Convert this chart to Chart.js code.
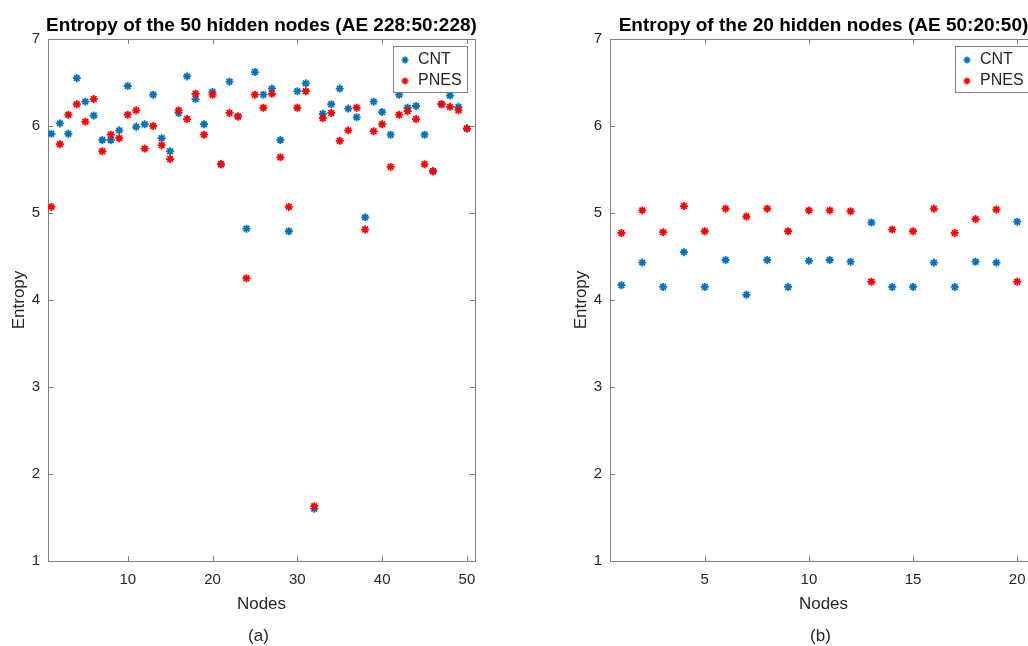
<!DOCTYPE html>
<html>
<head>
<meta charset="utf-8">
<script src="https://cdn.jsdelivr.net/npm/chart.js@4.4.1/dist/chart.umd.min.js"></script>
<style>
  html, body { margin: 0; padding: 0; background: #fff; overflow: hidden; }
  #wrapA { position: absolute; left: 0; top: 0; width: 514px; height: 646px; }
  #wrapB { position: absolute; left: 514px; top: 0; width: 540px; height: 646px; }
</style>
</head>
<body>
<div id="wrapA"><canvas id="chartA"></canvas></div>
<div id="wrapB"><canvas id="chartB"></canvas></div>
<script>
// (a) AE 228:50:228 - entropy per hidden node
const cntA = [5.91, 6.03, 5.91, 6.55, 6.28, 6.12, 5.84, 5.84, 5.95, 6.46,
              5.99, 6.02, 6.36, 5.86, 5.71, 6.15, 6.57, 6.31, 6.02, 6.39,
              5.56, 6.51, 6.11, 4.82, 6.62, 6.36, 6.43, 5.84, 4.79, 6.40,
              6.49, 1.60, 6.14, 6.25, 6.43, 6.20, 6.10, 4.95, 6.28, 6.16,
              5.90, 6.36, 6.21, 6.23, 5.90, 5.48, 6.25, 6.35, 6.22, 5.97];
const pnesA = [5.07, 5.79, 6.13, 6.25, 6.05, 6.31, 5.71, 5.90, 5.86, 6.13,
               6.18, 5.74, 6.00, 5.78, 5.62, 6.18, 6.08, 6.37, 5.90, 6.36,
               5.56, 6.15, 6.11, 4.25, 6.36, 6.21, 6.37, 5.64, 5.07, 6.21,
               6.40, 1.63, 6.09, 6.15, 5.83, 5.95, 6.21, 4.81, 5.94, 6.02,
               5.53, 6.13, 6.17, 6.08, 5.56, 5.48, 6.25, 6.22, 6.18, 5.97];

// (b) AE 50:20:50
const cntB = [4.17, 4.43, 4.15, 4.55, 4.15, 4.46, 4.06, 4.46, 4.15, 4.45,
              4.46, 4.44, 4.89, 4.15, 4.15, 4.43, 4.15, 4.44, 4.43, 4.90];
const pnesB = [4.77, 5.03, 4.78, 5.08, 4.79, 5.05, 4.96, 5.05, 4.79, 5.03,
               5.03, 5.02, 4.21, 4.81, 4.79, 5.05, 4.77, 4.93, 5.04, 4.21];

const xTicksA = [10, 20, 30, 40, 50];
const xTicksB = [5, 10, 15, 20];
const yTicks = [1, 2, 3, 4, 5, 6, 7];
const seriesNames = ['CNT', 'PNES'];

const FONT = '"Liberation Sans", Arial, Helvetica, sans-serif';
const BLUE = '#0072BD';
const RED = '#FF0000';
const AXIS = '#808080';
const TXT = '#262626';

// eixo estilo MATLAB: caixa + ticks para dentro, textos e legenda
const matlabAxes = {
  id: 'matlabAxes',
  beforeDatasetsDraw(chart) {
    const { ctx, chartArea: a, scales } = chart;
    ctx.save();
    ctx.strokeStyle = AXIS;
    ctx.lineWidth = 1;
    ctx.strokeRect(a.left + 0.5, a.top + 0.5, a.right - a.left, a.bottom - a.top);
    ctx.beginPath();
    scales.x.ticks.forEach(t => {
      const px = Math.round(scales.x.getPixelForValue(t.value)) + 0.5;
      ctx.moveTo(px, a.bottom); ctx.lineTo(px, a.bottom - 5);
      ctx.moveTo(px, a.top); ctx.lineTo(px, a.top + 5);
    });
    scales.y.ticks.forEach(t => {
      const py = Math.round(scales.y.getPixelForValue(t.value)) + 0.5;
      ctx.moveTo(a.left, py); ctx.lineTo(a.left + 5, py);
      ctx.moveTo(a.right, py); ctx.lineTo(a.right - 5, py);
    });
    ctx.stroke();
    ctx.restore();
  },
  afterDraw(chart, args, o) {
    const { ctx, chartArea: a } = chart;
    const cx = (a.left + a.right) / 2;
    ctx.save();
    // legenda
    const bx = a.right - 82, by = a.top + 7, bw = 74, bh = 46;
    ctx.fillStyle = '#fff';
    ctx.fillRect(bx, by, bw, bh);
    ctx.strokeStyle = AXIS;
    ctx.lineWidth = 1;
    ctx.strokeRect(bx + 0.5, by + 0.5, bw, bh);
    const cols = [BLUE, RED];
    seriesNames.forEach((name, i) => {
      const ry = by + 14 + i * 21;
      ctx.strokeStyle = cols[i];
      ctx.lineWidth = 1.6;
      Chart.helpers.drawPoint(ctx, { pointStyle: 'star', radius: 3.5, borderWidth: 1.6, rotation: 0 }, bx + 12, ry);
      ctx.fillStyle = TXT;
      ctx.font = '16px ' + FONT;
      ctx.textAlign = 'left';
      ctx.textBaseline = 'middle';
      ctx.fillText(name, bx + 25, ry);
    });
    // titulo
    ctx.fillStyle = '#000';
    ctx.font = 'bold 19px ' + FONT;
    ctx.textAlign = 'center';
    ctx.textBaseline = 'alphabetic';
    ctx.fillText(o.title, cx, 31);
    // rotulos
    ctx.fillStyle = TXT;
    ctx.font = '17px ' + FONT;
    ctx.fillText(o.xLabel, cx, 609);
    ctx.fillText(o.caption, cx - 3, 641);
    ctx.translate(a.left - 24, (a.top + a.bottom) / 2);
    ctx.rotate(-Math.PI / 2);
    ctx.fillText(o.yLabel, 0, 0);
    ctx.restore();
  }
};

function makeChart(id, cnt, pnes, xTicks, xMin, xMax, yWidth, padRight, title, caption) {
  const pts = arr => arr.map((v, i) => ({ x: i + 1, y: v }));
  return new Chart(document.getElementById(id), {
    type: 'scatter',
    data: {
      datasets: [{
        label: seriesNames[0],
        data: pts(cnt),
        pointStyle: 'star',
        radius: 4,
        borderWidth: 1.8,
        borderColor: BLUE,
        backgroundColor: BLUE,
        order: 1
      }, {
        label: seriesNames[1],
        data: pts(pnes),
        pointStyle: 'star',
        radius: 4,
        borderWidth: 1.8,
        borderColor: RED,
        backgroundColor: RED,
        order: 0
      }]
    },
    options: {
      responsive: true,
      maintainAspectRatio: false,
      animation: false,
      layout: { padding: { top: 39, right: padRight, bottom: 0, left: 0 } },
      plugins: {
        legend: { display: false },
        tooltip: { enabled: false },
        matlabAxes: { title: title, xLabel: 'Nodes', yLabel: 'Entropy', caption: caption }
      },
      scales: {
        x: {
          type: 'linear',
          min: xMin,
          max: xMax,
          afterBuildTicks: s => { s.ticks = xTicks.map(v => ({ value: v })); },
          afterFit: s => { s.height = 85; },
          grid: { display: false, drawTicks: false, tickLength: 0 },
          border: { display: false },
          ticks: { color: TXT, font: { size: 15, family: FONT }, padding: 10, maxRotation: 0, autoSkip: false }
        },
        y: {
          type: 'linear',
          min: 1,
          max: 7,
          afterBuildTicks: s => { s.ticks = yTicks.map(v => ({ value: v })); },
          afterFit: s => { s.width = yWidth; },
          grid: { display: false, drawTicks: false, tickLength: 0 },
          border: { display: false },
          ticks: { color: TXT, font: { size: 15, family: FONT }, padding: 8, autoSkip: false }
        }
      }
    },
    plugins: [matlabAxes]
  });
}

makeChart('chartA', cntA, pnesA, xTicksA, 0.6, 50.95, 48, 39,
  'Entropy of the 50 hidden nodes (AE 228:50:228)', '(a)');
makeChart('chartB', cntB, pnesB, xTicksB, 0.45, 20.95, 96, 17,
  'Entropy of the 20 hidden nodes (AE 50:20:50)', '(b)');
</script>
</body>
</html>
